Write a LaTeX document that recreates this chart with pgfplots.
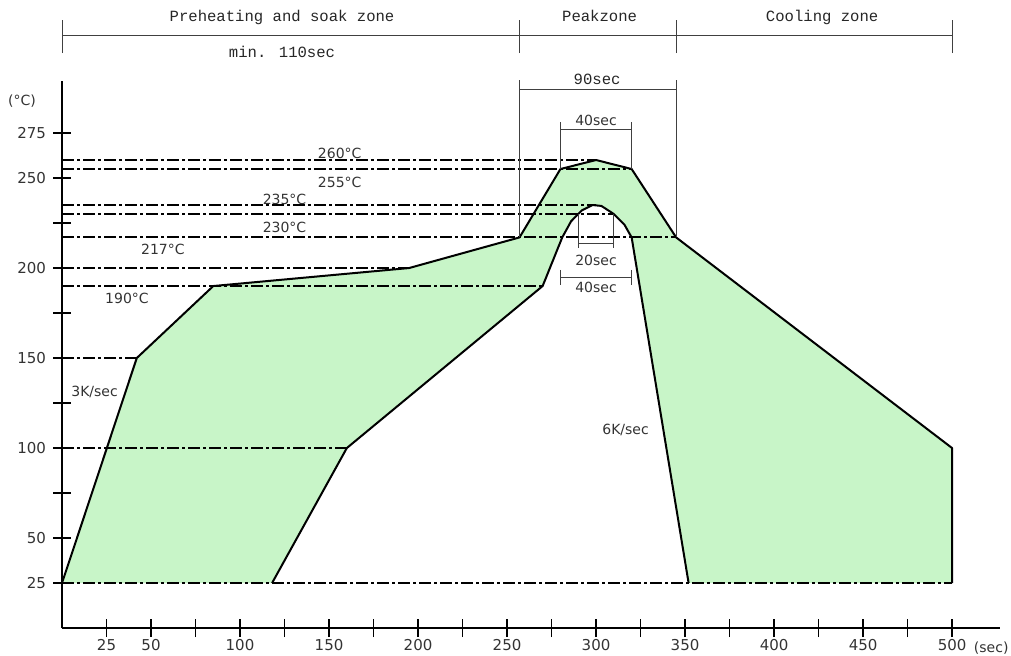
\documentclass[border=0pt]{standalone}
\usepackage{fontspec}
\setmainfont{Liberation Mono}
\newfontfamily\lsans{DejaVu Sans}
\usepackage{pgfplots}
\pgfplotsset{compat=1.18}
\definecolor{zonegreen}{RGB}{200,245,200}
\tikzset{
  refline/.style={black, line width=1pt, dash pattern=on 6pt off 1.5pt on 1.5pt off 1.5pt},
  dim/.style={black!75, line width=0.5pt},
  outline/.style={black, line width=1pt, line join=round},
  mono/.style={font=\fontsize{7.8}{9}\selectfont, text=black!85},
  snum/.style={font=\lsans\fontsize{7}{8}\selectfont, text=black!80},
}
\begin{document}
\begin{tikzpicture}
\begin{axis}[
  x=0.89pt, y=0.9pt,
  xmin=0, xmax=527, ymin=0, ymax=304,
  axis lines=left,
  axis line style={-, line width=0.7pt},
  xtick={25,50,...,500},
  xticklabels={25,50,,100,,150,,200,,250,,300,,350,,400,,450,,500},
  ytick={25,50,...,275},
  yticklabels={25,50,,100,,150,,200,,250,275},
  tick align=center, major tick length=9pt,
  tick style={black, line width=0.6pt},
  ticklabel style={font=\lsans\fontsize{7.5}{9}\selectfont, text=black!80},
  xticklabel style={yshift=2.2pt},
  clip=false,
]
% soldering window
\addplot[fill=zonegreen, draw=none] coordinates {
  (0,25) (42,150) (85,190) (195,200) (257,217) (280,255) (300,260) (320,255)
  (345,217) (500,100) (500,25) (352,25) (320,217) (316,224) (310,230)
  (303,234.5) (298,235) (292,232) (286,226) (281,217) (270,190) (160,100) (118,25)
} -- cycle;

% reference temperatures
\addplot[refline] coordinates {(0,260) (300,260)};
\addplot[refline] coordinates {(0,255) (320,255)};
\addplot[refline] coordinates {(0,235) (300,235)};
\addplot[refline] coordinates {(0,230) (310,230)};
\addplot[refline] coordinates {(0,217) (345,217)};
\addplot[refline] coordinates {(0,200) (195,200)};
\addplot[refline] coordinates {(0,190) (270,190)};
\addplot[refline] coordinates {(0,150) (42,150)};
\addplot[refline] coordinates {(0,100) (160,100)};
\addplot[refline] coordinates {(0,25) (500,25)};

% window edges
\addplot[outline] coordinates {
  (0,25) (42,150) (85,190) (195,200) (257,217) (280,255) (300,260) (320,255)
  (345,217) (500,100) (500,25)};
\addplot[outline] coordinates {
  (352,25) (320,217) (316,224) (310,230) (303,234.5) (298,235) (292,232)
  (286,226) (281,217) (270,190) (160,100) (118,25)};

% thicker bits of the y axis
\addplot[black, line width=1.4pt] coordinates {(0,250) (0,260)};
\addplot[black, line width=1.4pt] coordinates {(0,0) (0,25)};

% zone bracket
\addplot[dim] coordinates {(0,329.4) (500,329.4)};
\addplot[dim] coordinates {(0,319.4) (0,337.8)};
\addplot[dim] coordinates {(257,319.4) (257,337.8)};
\addplot[dim] coordinates {(345,319.4) (345,337.8)};
\addplot[dim] coordinates {(500,319.4) (500,337.8)};
% 90sec
\addplot[dim] coordinates {(257,299.4) (345,299.4)};
\addplot[dim] coordinates {(257,304.4) (257,217)};
\addplot[dim] coordinates {(345,304.4) (345,217)};
% 40sec top
\addplot[dim] coordinates {(280,276.7) (320,276.7)};
\addplot[dim] coordinates {(280,281) (280,255)};
\addplot[dim] coordinates {(320,281) (320,255)};
% 20sec
\addplot[dim] coordinates {(290,213.9) (310,213.9)};
\addplot[dim] coordinates {(290,230) (290,211)};
\addplot[dim] coordinates {(310,230) (310,211)};
% 40sec bottom
\addplot[dim] coordinates {(280,195) (320,195)};
\addplot[dim] coordinates {(280,199) (280,190.5)};
\addplot[dim] coordinates {(320,199) (320,190.5)};

\node[mono] at (axis cs:123.6,339.4) {Preheating and soak zone};
\node[mono] at (axis cs:123.6,320) {min. 110sec};
\node[mono] at (axis cs:302,340) {Peakzone};
\node[mono] at (axis cs:427,339) {Cooling zone};
\node[mono] at (axis cs:300.6,305) {90sec};
\node[snum] at (axis cs:300,282) {40sec};
\node[snum] at (axis cs:300,204) {20sec};
\node[snum] at (axis cs:300,189) {40sec};

\node[snum] at (axis cs:156,263.9) {260°C};
\node[snum] at (axis cs:156,247.8) {255°C};
\node[snum] at (axis cs:125,238.3) {235°C};
\node[snum] at (axis cs:125,222.8) {230°C};
\node[snum] at (axis cs:56.7,210.6) {217°C};
\node[snum] at (axis cs:36.5,183.3) {190°C};
\node[snum] at (axis cs:18.3,131) {3K/sec};
\node[snum] at (axis cs:316.6,110) {6K/sec};
\node[snum] at (axis cs:-22.5,293) {(°C)};
\node[snum] at (axis cs:522,-11) {(sec)};

\coordinate (bbl) at (axis cs:-34.83,-15);
\coordinate (btr) at (axis cs:533.1,348.9);
\end{axis}
\pgfresetboundingbox
\path[use as bounding box] (bbl) rectangle (btr);
\end{tikzpicture}
\end{document}
